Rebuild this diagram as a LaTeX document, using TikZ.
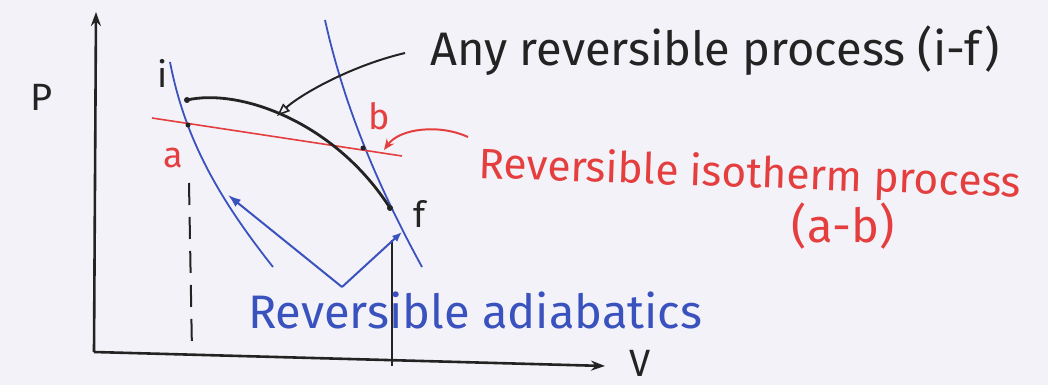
\documentclass[tikz,border=0pt]{standalone}
\usepackage{fontspec}
\setmainfont{Fira Sans}
\usetikzlibrary{arrows.meta}
\definecolor{paper}{RGB}{242,242,248}
\definecolor{ink}{RGB}{35,35,35}
\definecolor{pen}{RGB}{228,62,62}
\definecolor{bpen}{RGB}{58,82,190}
\tikzset{
  lbl/.style={inner sep=0pt, font=\fontsize{38}{42}\selectfont},
  biglbl/.style={inner sep=0pt, font=\fontsize{47}{50}\selectfont},
  redlbl/.style={inner sep=0pt, font=\fontsize{42.5}{46}\selectfont},
  ptlbl/.style={inner sep=0pt, font=\fontsize{36}{40}\selectfont},
  axis/.style={ink, line width=2.6pt, -{Stealth[length=14pt,width=10pt]}},
  proc/.style={ink, line width=2.8pt},
  adia/.style={bpen, line width=1.8pt},
  iso/.style={pen, line width=1.6pt},
  dot/.style={circle, fill=ink, inner sep=0pt, minimum size=6pt},
}
\begin{document}
\begin{tikzpicture}[x=1pt,y=-1pt]
\fill[paper] (0,0) rectangle (1048,385);
\useasboundingbox (0,0) rectangle (1048,385);
% axes
\coordinate (O) at (94,352);
\coordinate (Ytop) at (96,12);
\coordinate (Xend) at (605,366);
\draw[axis] (O) -- (Ytop);
\draw[axis] (O) -- (Xend);
\node[lbl, ink] (P) at (42,97) {P};
\node[lbl, ink, anchor=north] (V) at (640,350) {V};
% points
\coordinate (i) at (187,100);
\coordinate (f) at (390,208);
\coordinate (a) at (188,125);
\coordinate (b) at (363,148);
% adiabats
\coordinate (A1s) at (170,62);
\coordinate (A1e) at (273,267);
\coordinate (A2s) at (325,20);
\coordinate (A2e) at (422,267);
\draw[adia] (A1s) .. controls (185,140) and (220,200) .. (A1e);
\draw[adia] (A2s) .. controls (345,110) and (380,190) .. (A2e);
% isotherm
\coordinate (Is) at (152,118);
\coordinate (Ie) at (402,156);
\draw[iso] (Is) -- (Ie);
% process curve
\draw[proc] (i) .. controls (240,88) and (335,122) .. (f);
\node[dot] (idot) at (i) {};
\node[dot] (fdot) at (f) {};
\fill[ink] (a) circle (2.5pt);
\fill[ink] (b) circle (2.5pt);
% dashed & vertical lines
\coordinate (d1) at (189,183);
\coordinate (d2) at (192,352);
\draw[ink, line width=2pt, dash pattern=on 22pt off 12pt] (d1) -- (d2);
\coordinate (v1) at (392,240);
\coordinate (v2) at (392,366);
\draw[ink, line width=2pt] (v1) -- (v2);
% point labels
\node[ptlbl, ink] (il) at (163,73) {i};
\node[ptlbl, ink] (fl) at (420,214) {f};
\node[ptlbl, pen] (al) at (173,158) {a};
\node[ptlbl, pen] (bl) at (379,116) {b};
% annotations
\node[biglbl, ink, anchor=base west] (t1) at (430,66) {Any reversible process (i-f)};
\coordinate (c1) at (405,53);
\coordinate (c1t) at (277,116);
\draw[ink, line width=2pt, -{Triangle[open, length=13pt, width=10pt, line width=1.6pt]}] (c1) .. controls (350,66) and (300,95) .. (c1t);
\node[redlbl, pen, anchor=base west, rotate=-2] (t2) at (478,178) {Reversible isotherm process};
\node[biglbl, pen] (t3) at (843,226) {(a-b)};
\coordinate (c2) at (468,137);
\coordinate (c2t) at (384,150);
\draw[pen, line width=2pt, -{Stealth[length=11pt,width=9pt]}] (c2) .. controls (440,124) and (400,128) .. (c2t);
\node[biglbl, bpen, anchor=base west] (t4) at (248,328) {Reversible adiabatics};
\coordinate (vb) at (342,287);
\coordinate (vt1) at (228,195);
\coordinate (vt2) at (402,232);
\draw[bpen, line width=2pt, -{Latex[length=13pt,width=9pt]}] (vb) -- (vt1);
\draw[bpen, line width=2pt, -{Latex[length=10pt,width=8pt]}] (vb) -- (vt2);
\end{tikzpicture}
\end{document}
